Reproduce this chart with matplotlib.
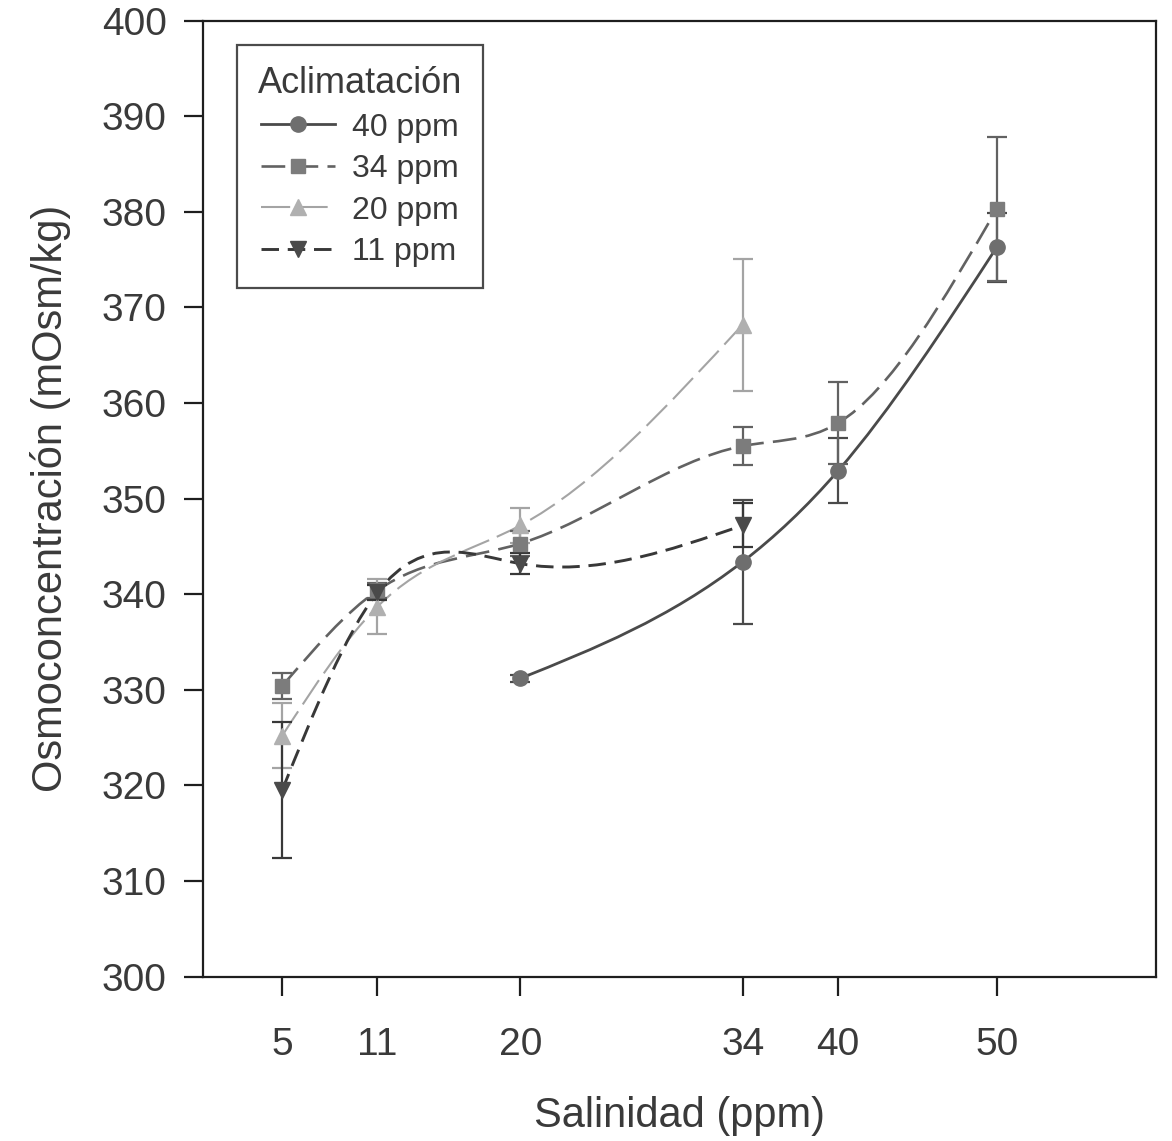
import numpy as np
import matplotlib
matplotlib.use("Agg")
import matplotlib.pyplot as plt
from matplotlib.path import Path
from matplotlib.patches import PathPatch
from matplotlib.lines import Line2D

plt.rcParams['font.family'] = ['Liberation Sans', 'DejaVu Sans']

# datos
sal_40 = [20, 34, 40, 50]
osm_40 = [331.2, 343.4, 352.9, 376.3]
err_40 = [0.4, 6.5, 3.4, 3.6]

sal_34 = [5, 11, 20, 34, 40, 50]
osm_34 = [330.4, 340.4, 345.3, 355.5, 357.9, 380.3]
err_34 = [1.4, 0.8, 1.3, 2.0, 4.3, 7.5]

sal_20 = [5, 11, 20, 34]
osm_20 = [325.2, 338.7, 347.2, 368.2]
err_20 = [3.4, 2.9, 1.8, 6.9]

sal_11 = [5, 11, 20, 34]
osm_11 = [319.5, 340.2, 343.2, 347.2]
err_11 = [7.1, 0.8, 1.1, 2.3]

xticks = [5, 11, 20, 34, 40, 50]
yticks = [300, 310, 320, 330, 340, 350, 360, 370, 380, 390, 400]

txt = '#3a3a3a'


def spline_path(xs, ys):
    # curva spline natural dibujada como bezier cubicas
    xs = np.asarray(xs, float)
    ys = np.asarray(ys, float)
    n = len(xs)
    h = np.diff(xs)
    d = np.diff(ys) / h
    A = np.zeros((n, n))
    b = np.zeros(n)
    A[0, 0] = A[-1, -1] = 1
    for i in range(1, n - 1):
        A[i, i - 1] = h[i - 1]
        A[i, i] = 2 * (h[i - 1] + h[i])
        A[i, i + 1] = h[i]
        b[i] = 6 * (d[i] - d[i - 1])
    M = np.linalg.solve(A, b)
    m = np.empty(n)
    m[:-1] = d - h * (2 * M[:-1] + M[1:]) / 6
    m[-1] = d[-1] + h[-1] * (M[-2] + 2 * M[-1]) / 6
    verts = [(xs[0], ys[0])]
    codes = [Path.MOVETO]
    for i in range(n - 1):
        verts += [(xs[i] + h[i] / 3, ys[i] + m[i] * h[i] / 3),
                  (xs[i + 1] - h[i] / 3, ys[i + 1] - m[i + 1] * h[i] / 3),
                  (xs[i + 1], ys[i + 1])]
        codes += [Path.CURVE4] * 3
    return Path(verts, codes)


series = [
    ('40 ppm', sal_40, osm_40, err_40, dict(color='#4a4a4a', lw=2.0, ls='-', marker='o', ms=11, mfc='#6e6e6e')),
    ('34 ppm', sal_34, osm_34, err_34, dict(color='#626262', lw=1.9, ls=(0, (9, 3.5)), marker='s', ms=10.5, mfc='#7c7c7c')),
    ('20 ppm', sal_20, osm_20, err_20, dict(color='#a4a4a4', lw=1.5, ls=(0, (14, 4)), marker='^', ms=11, mfc='#b0b0b0')),
    ('11 ppm', sal_11, osm_11, err_11, dict(color='#383838', lw=2.1, ls=(0, (6, 3)), marker='v', ms=11, mfc='#4a4a4a')),
]

fig = plt.figure(figsize=(11.72, 11.41), dpi=100)
ax = fig.add_axes([0.173, 0.144, 0.813, 0.838])

handles = []
for name, xs, ys, es, st in series:
    patch = PathPatch(spline_path(xs, ys), fill=False, edgecolor=st['color'],
                      lw=st['lw'], ls=st['ls'], zorder=2)
    ax.add_patch(patch)
    ax.errorbar(xs, ys, yerr=es, fmt=st['marker'], ms=st['ms'], mfc=st['mfc'],
                mec=st['mfc'], ecolor=st['color'], elinewidth=1.6, capsize=7,
                capthick=1.6, linestyle='none', zorder=3)
    handles.append(Line2D([], [], color=st['color'], lw=st['lw'], ls=st['ls'],
                          marker=st['marker'], ms=st['ms'], mfc=st['mfc'],
                          mec=st['mfc'], label=name))

ax.set_xlim(0, 60)
ax.set_ylim(300, 400)
ax.set_xticks(xticks)
ax.set_yticks(yticks)

for s in ax.spines.values():
    s.set_color('#1e1e1e')
    s.set_linewidth(1.6)

ax.tick_params(axis='both', direction='out', length=14, width=1.6,
               color='#1e1e1e', labelsize=28, labelcolor=txt)
ax.tick_params(axis='y', pad=12)
ax.tick_params(axis='x', pad=22)

ax.set_xlabel('Salinidad (ppm)', fontsize=30, color=txt, labelpad=24)
ax.set_ylabel('Osmoconcentración (mOsm/kg)', fontsize=30, color=txt, labelpad=22)

leg = ax.legend(handles=handles, title='Aclimatación', loc='upper left',
                bbox_to_anchor=(0.036, 0.974), fontsize=23, title_fontsize=26,
                frameon=True, fancybox=False, edgecolor='#1e1e1e',
                handlelength=2.3, handletextpad=0.55, labelspacing=0.36,
                borderpad=0.65, borderaxespad=0)
leg.get_frame().set_linewidth(1.6)
leg.get_title().set_color(txt)
for t in leg.get_texts():
    t.set_color(txt)

fig.savefig('out.png', dpi=100)
